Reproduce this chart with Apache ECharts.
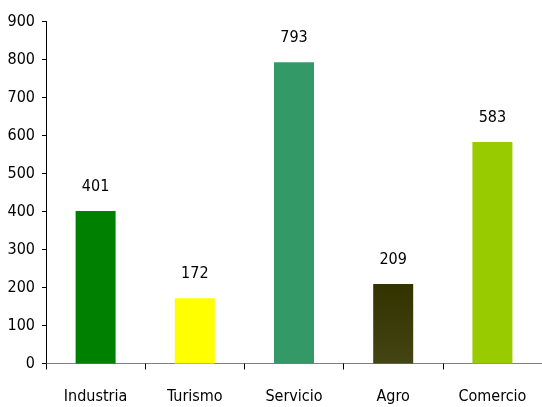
<!DOCTYPE html>
<html><head><meta charset="utf-8">
<script src="https://cdn.jsdelivr.net/npm/echarts@6/dist/echarts.min.js"></script>
<style>html,body{margin:0;padding:0;background:#fff}#c{width:542px;height:407px}</style>
</head><body><div id="c"></div>
<script>
const categories = ['Industria','Turismo','Servicio','Agro','Comercio'];
const values = [401,172,793,209,583];
const yTicks = {min:0,max:900,interval:100};
const font = '"DejaVu Sans Condensed","Liberation Sans",sans-serif';
const colors = [
  '#008000','#FFFF00','#339966',
  {type:'linear',x:0,y:0,x2:0,y2:1,colorStops:[{offset:0,color:'#333300'},{offset:1,color:'#444414'}]},
  '#99CC00'
];
const chart = echarts.init(document.getElementById('c'));
chart.setOption({
  animation:false,
  grid:{left:46,top:21.5,width:500,height:342},
  xAxis:{type:'category',data:categories,
    axisLine:{lineStyle:{color:'#808080',width:1}},
    axisTick:{show:true,length:6,lineStyle:{color:'#000'}},
    axisLabel:{color:'#000',fontFamily:font,fontSize:16,margin:25}},
  yAxis:{type:'value',min:yTicks.min,max:yTicks.max,interval:yTicks.interval,
    axisLine:{show:true,lineStyle:{color:'#000'}},
    axisTick:{show:true,length:4,lineStyle:{color:'#000'}},
    splitLine:{show:false},
    axisLabel:{color:'#000',fontFamily:font,fontSize:16,margin:11}},
  series:[{type:'bar',barWidth:40,
    data:values.map((v,i)=>({value:v,itemStyle:{color:colors[i]}})),
    label:{show:true,position:'top',distance:16,color:'#000',fontFamily:font,fontSize:16}}]
});
</script></body></html>
